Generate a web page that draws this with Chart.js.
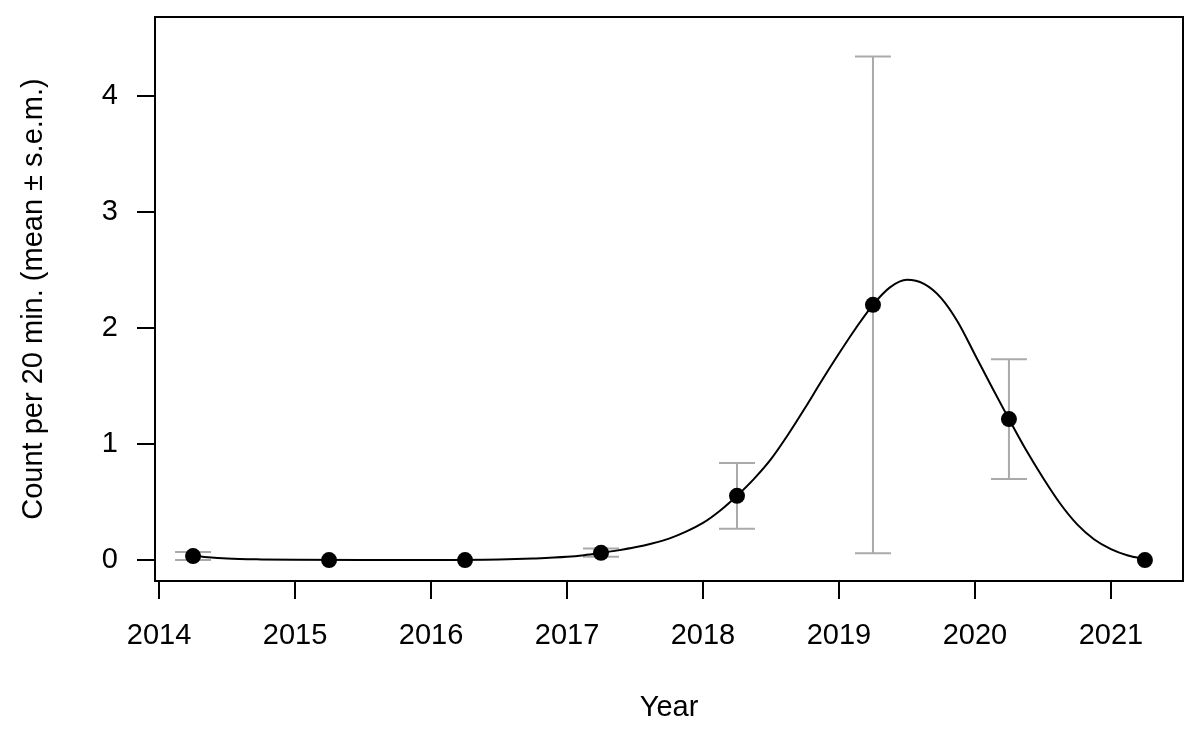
<!DOCTYPE html>
<html>
<head>
<meta charset="utf-8">
<script src="https://cdn.jsdelivr.net/npm/chart.js@4.4.1/dist/chart.umd.min.js"></script>
<style>
  html, body { margin: 0; padding: 0; background: #fff; }
  #wrap { width: 1200px; height: 730px; }
</style>
</head>
<body>
<div id="wrap"><canvas id="chart"></canvas></div>
<script>
const years = [2014.25, 2015.25, 2016.25, 2017.25, 2018.25, 2019.25, 2020.25, 2021.25];
const means = [0.035, 0.0, 0.0, 0.063, 0.554, 2.20, 1.215, 0.0];
const semLow = [0.0, 0.0, 0.0, 0.03, 0.27, 0.06, 0.70, 0.0];
const semHigh = [0.07, 0.0, 0.0, 0.10, 0.836, 4.34, 1.73, 0.0];

// fitted curve
const fitYears = [2014.25, 2014.5, 2014.75, 2015.0, 2015.5, 2016.0, 2016.5, 2016.75, 2017.0, 2017.125, 2017.25, 2017.375, 2017.5, 2017.625, 2017.75, 2017.875, 2018.0, 2018.125, 2018.25, 2018.375, 2018.5, 2018.625, 2018.75, 2018.875, 2019.0, 2019.125, 2019.25, 2019.375, 2019.5, 2019.625, 2019.75, 2019.875, 2020.0, 2020.125, 2020.25, 2020.375, 2020.5, 2020.625, 2020.75, 2020.875, 2021.0, 2021.125, 2021.25];
const fitValues = [0.035, 0.014, 0.006, 0.003, 0.002, 0.002, 0.006, 0.014, 0.028, 0.042, 0.062, 0.084, 0.11, 0.143, 0.185, 0.245, 0.32, 0.425, 0.554, 0.70, 0.87, 1.08, 1.31, 1.55, 1.78, 2.00, 2.20, 2.35, 2.415, 2.38, 2.26, 2.05, 1.77, 1.49, 1.215, 0.95, 0.71, 0.49, 0.31, 0.18, 0.095, 0.04, 0.01];

const xTicks = [2014, 2015, 2016, 2017, 2018, 2019, 2020, 2021];
const yTicks = [0, 1, 2, 3, 4];

const FONT = "'Liberation Sans', Arial, Helvetica, sans-serif";

const errorBars = {
  id: 'errorBars',
  beforeDatasetsDraw(chart) {
    const { ctx, scales: { x, y } } = chart;
    ctx.save();
    ctx.strokeStyle = '#aaaaaa';
    ctx.lineWidth = 2;
    years.forEach((yr, i) => {
      if (semHigh[i] === semLow[i]) return;
      const px = x.getPixelForValue(yr);
      const top = y.getPixelForValue(semHigh[i]);
      const bot = y.getPixelForValue(semLow[i]);
      ctx.beginPath();
      ctx.moveTo(px, top); ctx.lineTo(px, bot);
      ctx.moveTo(px - 18, top); ctx.lineTo(px + 18, top);
      ctx.moveTo(px - 18, bot); ctx.lineTo(px + 18, bot);
      ctx.stroke();
    });
    ctx.restore();
  }
};

const frame = {
  id: 'frame',
  afterDraw(chart) {
    const { ctx, chartArea: a } = chart;
    ctx.save();
    ctx.strokeStyle = '#000';
    ctx.lineWidth = 2;
    ctx.strokeRect(a.left, a.top, a.right - a.left, a.bottom - a.top);
    ctx.restore();
  }
};

new Chart(document.getElementById('chart'), {
  type: 'scatter',
  data: {
    datasets: [
      {
        label: 'mean',
        data: years.map((yr, i) => ({ x: yr, y: means[i] })),
        backgroundColor: '#000',
        borderWidth: 0,
        pointRadius: 8
      },
      {
        label: 'fit',
        type: 'line',
        data: fitYears.map((yr, i) => ({ x: yr, y: fitValues[i] })),
        borderColor: '#000',
        borderWidth: 2,
        pointRadius: 0,
        fill: false,
        cubicInterpolationMode: 'monotone'
      }
    ]
  },
  options: {
    responsive: true,
    maintainAspectRatio: false,
    animation: false,
    layout: { padding: { top: 17, right: 17, left: 0, bottom: 0 } },
    plugins: { legend: { display: false }, tooltip: { enabled: false } },
    scales: {
      x: {
        type: 'linear',
        min: 2013.97,
        max: 2021.53,
        afterBuildTicks: s => { s.ticks = xTicks.map(v => ({ value: v })); },
        afterFit: s => { s.height = 149; s.paddingLeft = 0; s.paddingRight = 0; },
        border: { display: false },
        grid: { drawOnChartArea: false, drawTicks: true, tickLength: 18, color: '#000', lineWidth: 2 },
        ticks: { color: '#000', padding: 20, maxRotation: 0, font: { family: FONT, size: 29 }, callback: v => String(v) },
        title: { display: true, text: 'Year', color: '#000', padding: { top: 0, bottom: 5 }, font: { family: FONT, size: 29 } }
      },
      y: {
        min: -0.18,
        max: 4.68,
        afterBuildTicks: s => { s.ticks = yTicks.map(v => ({ value: v })); },
        afterFit: s => { s.width = 155; s.paddingTop = 0; s.paddingBottom = 0; },
        border: { display: false },
        grid: { drawOnChartArea: false, drawTicks: true, tickLength: 18, color: '#000', lineWidth: 2 },
        ticks: { color: '#000', padding: 19, font: { family: FONT, size: 29 }, callback: v => String(v) },
        title: { display: true, text: 'Count per 20 min. (mean ± s.e.m.)', color: '#000', padding: { top: 17, bottom: 0 }, font: { family: FONT, size: 29 } }
      }
    }
  },
  plugins: [errorBars, frame]
});
</script>
</body>
</html>
